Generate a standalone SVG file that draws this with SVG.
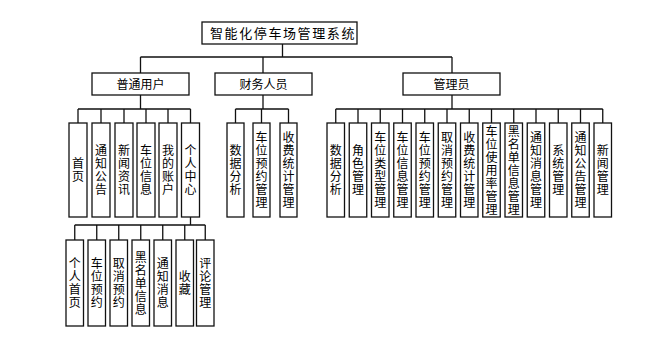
<svg xmlns="http://www.w3.org/2000/svg" width="671" height="346" viewBox="0 0 671 346">
<style>
.box{fill:#fff;stroke:#111;stroke-width:1.3}
.ln{fill:none;stroke:#111;stroke-width:1.3}
text{font-family:"Noto Sans CJK SC","Noto Sans",sans-serif;font-size:12px;fill:#000;text-anchor:middle}
.t{font-size:13px;letter-spacing:1.6px}
.v{writing-mode:vertical-rl}
</style>
<rect width="671" height="346" fill="#fff"/>
<g id="connectors">
<path class="ln" d="M282.5,44V57M140.5,57H452M140.5,57V73M263,57V73M452,57V73"/>
<path class="ln" d="M140.5,95V109M78,109H190.5M78,109V123M101,109V123M124,109V123M146,109V123M168,109V123M190.5,109V123"/>
<path class="ln" d="M263,95V109M235.5,109H288.5M235.5,109V123M261.5,109V123M288.5,109V123"/>
<path class="ln" d="M452,95V109M335.75,109H602.75M335.75,109V123M358,109V123M380.25,109V123M402.5,109V123M424.75,109V123M447,109V123M469.25,109V123M491.5,109V123M513.75,109V123M536,109V123M558.25,109V123M580.5,109V123M602.75,109V123"/>
<path class="ln" d="M190.5,217V225M74.75,225H205.25M74.75,225V240M96.75,225V240M118.75,225V240M140.75,225V240M162.75,225V240M184.75,225V240M205.25,225V240"/>
</g>
<g id="root"><rect class="box" x="202" y="22" width="155" height="22"/><text class="t" x="283" y="37.5">智能化停车场管理系统</text></g>
<g id="user"><rect class="box" x="92" y="73" width="97" height="22"/><text x="140.5" y="88.5">普通用户</text></g>
<g id="finance"><rect class="box" x="215" y="73" width="97" height="22"/><text x="263.5" y="88.5">财务人员</text></g>
<g id="admin"><rect class="box" x="403" y="73" width="97" height="22"/><text x="451.5" y="88.5">管理员</text></g>

<g id="u1"><rect class="box" x="69" y="123" width="18" height="94"/><text class="v" x="78" y="163.5">首</text><text class="v" x="78" y="176.5">页</text></g>
<g id="u2"><rect class="box" x="92" y="123" width="18" height="94"/><text class="v" x="101" y="150.5">通</text><text class="v" x="101" y="163.5">知</text><text class="v" x="101" y="176.5">公</text><text class="v" x="101" y="189.5">告</text></g>
<g id="u3"><rect class="box" x="115" y="123" width="18" height="94"/><text class="v" x="124" y="150.5">新</text><text class="v" x="124" y="163.5">闻</text><text class="v" x="124" y="176.5">资</text><text class="v" x="124" y="189.5">讯</text></g>
<g id="u4"><rect class="box" x="137" y="123" width="18" height="94"/><text class="v" x="146" y="150.5">车</text><text class="v" x="146" y="163.5">位</text><text class="v" x="146" y="176.5">信</text><text class="v" x="146" y="189.5">息</text></g>
<g id="u5"><rect class="box" x="159" y="123" width="18" height="94"/><text class="v" x="168" y="150.5">我</text><text class="v" x="168" y="163.5">的</text><text class="v" x="168" y="176.5">账</text><text class="v" x="168" y="189.5">户</text></g>
<g id="u6"><rect class="box" x="181.5" y="123" width="18" height="94"/><text class="v" x="190.5" y="150.5">个</text><text class="v" x="190.5" y="163.5">人</text><text class="v" x="190.5" y="176.5">中</text><text class="v" x="190.5" y="189.5">心</text></g>

<g id="f1"><rect class="box" x="227" y="123" width="17" height="94"/><text class="v" x="235.5" y="150.5">数</text><text class="v" x="235.5" y="163.5">据</text><text class="v" x="235.5" y="176.5">分</text><text class="v" x="235.5" y="189.5">析</text></g>
<g id="f2"><rect class="box" x="253" y="123" width="17" height="94"/><text class="v" x="261.5" y="137.5">车</text><text class="v" x="261.5" y="150.5">位</text><text class="v" x="261.5" y="163.5">预</text><text class="v" x="261.5" y="176.5">约</text><text class="v" x="261.5" y="189.5">管</text><text class="v" x="261.5" y="202.5">理</text></g>
<g id="f3"><rect class="box" x="280" y="123" width="17" height="94"/><text class="v" x="288.5" y="137.5">收</text><text class="v" x="288.5" y="150.5">费</text><text class="v" x="288.5" y="163.5">统</text><text class="v" x="288.5" y="176.5">计</text><text class="v" x="288.5" y="189.5">管</text><text class="v" x="288.5" y="202.5">理</text></g>

<g id="a1"><rect class="box" x="327" y="123" width="17.5" height="94"/><text class="v" x="335.75" y="150.5">数</text><text class="v" x="335.75" y="163.5">据</text><text class="v" x="335.75" y="176.5">分</text><text class="v" x="335.75" y="189.5">析</text></g>
<g id="a2"><rect class="box" x="349.25" y="123" width="17.5" height="94"/><text class="v" x="358" y="150.5">角</text><text class="v" x="358" y="163.5">色</text><text class="v" x="358" y="176.5">管</text><text class="v" x="358" y="189.5">理</text></g>
<g id="a3"><rect class="box" x="371.5" y="123" width="17.5" height="94"/><text class="v" x="380.25" y="137.5">车</text><text class="v" x="380.25" y="150.5">位</text><text class="v" x="380.25" y="163.5">类</text><text class="v" x="380.25" y="176.5">型</text><text class="v" x="380.25" y="189.5">管</text><text class="v" x="380.25" y="202.5">理</text></g>
<g id="a4"><rect class="box" x="393.75" y="123" width="17.5" height="94"/><text class="v" x="402.5" y="137.5">车</text><text class="v" x="402.5" y="150.5">位</text><text class="v" x="402.5" y="163.5">信</text><text class="v" x="402.5" y="176.5">息</text><text class="v" x="402.5" y="189.5">管</text><text class="v" x="402.5" y="202.5">理</text></g>
<g id="a5"><rect class="box" x="416" y="123" width="17.5" height="94"/><text class="v" x="424.75" y="137.5">车</text><text class="v" x="424.75" y="150.5">位</text><text class="v" x="424.75" y="163.5">预</text><text class="v" x="424.75" y="176.5">约</text><text class="v" x="424.75" y="189.5">管</text><text class="v" x="424.75" y="202.5">理</text></g>
<g id="a6"><rect class="box" x="438.25" y="123" width="17.5" height="94"/><text class="v" x="447" y="137.5">取</text><text class="v" x="447" y="150.5">消</text><text class="v" x="447" y="163.5">预</text><text class="v" x="447" y="176.5">约</text><text class="v" x="447" y="189.5">管</text><text class="v" x="447" y="202.5">理</text></g>
<g id="a7"><rect class="box" x="460.5" y="123" width="17.5" height="94"/><text class="v" x="469.25" y="137.5">收</text><text class="v" x="469.25" y="150.5">费</text><text class="v" x="469.25" y="163.5">统</text><text class="v" x="469.25" y="176.5">计</text><text class="v" x="469.25" y="189.5">管</text><text class="v" x="469.25" y="202.5">理</text></g>
<g id="a8"><rect class="box" x="482.75" y="123" width="17.5" height="94"/><text class="v" x="491.5" y="131">车</text><text class="v" x="491.5" y="144">位</text><text class="v" x="491.5" y="157">使</text><text class="v" x="491.5" y="170">用</text><text class="v" x="491.5" y="183">率</text><text class="v" x="491.5" y="196">管</text><text class="v" x="491.5" y="209">理</text></g>
<g id="a9"><rect class="box" x="505" y="123" width="17.5" height="94"/><text class="v" x="513.75" y="131">黑</text><text class="v" x="513.75" y="144">名</text><text class="v" x="513.75" y="157">单</text><text class="v" x="513.75" y="170">信</text><text class="v" x="513.75" y="183">息</text><text class="v" x="513.75" y="196">管</text><text class="v" x="513.75" y="209">理</text></g>
<g id="a10"><rect class="box" x="527.25" y="123" width="17.5" height="94"/><text class="v" x="536" y="137.5">通</text><text class="v" x="536" y="150.5">知</text><text class="v" x="536" y="163.5">消</text><text class="v" x="536" y="176.5">息</text><text class="v" x="536" y="189.5">管</text><text class="v" x="536" y="202.5">理</text></g>
<g id="a11"><rect class="box" x="549.5" y="123" width="17.5" height="94"/><text class="v" x="558.25" y="150.5">系</text><text class="v" x="558.25" y="163.5">统</text><text class="v" x="558.25" y="176.5">管</text><text class="v" x="558.25" y="189.5">理</text></g>
<g id="a12"><rect class="box" x="571.75" y="123" width="17.5" height="94"/><text class="v" x="580.5" y="137.5">通</text><text class="v" x="580.5" y="150.5">知</text><text class="v" x="580.5" y="163.5">公</text><text class="v" x="580.5" y="176.5">告</text><text class="v" x="580.5" y="189.5">管</text><text class="v" x="580.5" y="202.5">理</text></g>
<g id="a13"><rect class="box" x="594" y="123" width="17.5" height="94"/><text class="v" x="602.75" y="150.5">新</text><text class="v" x="602.75" y="163.5">闻</text><text class="v" x="602.75" y="176.5">管</text><text class="v" x="602.75" y="189.5">理</text></g>

<g id="p1"><rect class="box" x="66" y="240" width="17.5" height="86"/><text class="v" x="74.75" y="263.5">个</text><text class="v" x="74.75" y="276.5">人</text><text class="v" x="74.75" y="289.5">首</text><text class="v" x="74.75" y="302.5">页</text></g>
<g id="p2"><rect class="box" x="88" y="240" width="17.5" height="86"/><text class="v" x="96.75" y="263.5">车</text><text class="v" x="96.75" y="276.5">位</text><text class="v" x="96.75" y="289.5">预</text><text class="v" x="96.75" y="302.5">约</text></g>
<g id="p3"><rect class="box" x="110" y="240" width="17.5" height="86"/><text class="v" x="118.75" y="263.5">取</text><text class="v" x="118.75" y="276.5">消</text><text class="v" x="118.75" y="289.5">预</text><text class="v" x="118.75" y="302.5">约</text></g>
<g id="p4"><rect class="box" x="132" y="240" width="17.5" height="86"/><text class="v" x="140.75" y="257">黑</text><text class="v" x="140.75" y="270">名</text><text class="v" x="140.75" y="283">单</text><text class="v" x="140.75" y="296">信</text><text class="v" x="140.75" y="309">息</text></g>
<g id="p5"><rect class="box" x="154" y="240" width="17.5" height="86"/><text class="v" x="162.75" y="263.5">通</text><text class="v" x="162.75" y="276.5">知</text><text class="v" x="162.75" y="289.5">消</text><text class="v" x="162.75" y="302.5">息</text></g>
<g id="p6"><rect class="box" x="176" y="240" width="17.5" height="86"/><text class="v" x="184.75" y="276.5">收</text><text class="v" x="184.75" y="289.5">藏</text></g>
<g id="p7"><rect class="box" x="196.5" y="240" width="17.5" height="86"/><text class="v" x="205.25" y="263.5">评</text><text class="v" x="205.25" y="276.5">论</text><text class="v" x="205.25" y="289.5">管</text><text class="v" x="205.25" y="302.5">理</text></g>
</svg>
